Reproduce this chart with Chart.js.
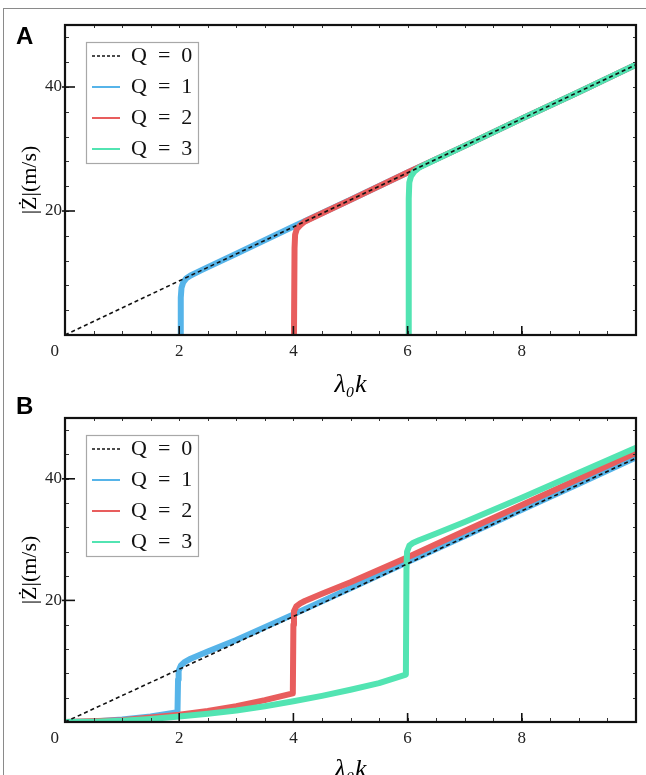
<!DOCTYPE html>
<html><head><meta charset="utf-8">
<script src="https://cdn.jsdelivr.net/npm/chart.js@4.4.0/dist/chart.umd.min.js"></script>
<style>
html,body{margin:0;padding:0;background:#fff;width:646px;height:775px;overflow:hidden;position:relative;}
#frame{position:absolute;left:3px;top:8px;width:700px;height:800px;border-left:1.5px solid #8a8a8a;border-top:1.5px solid #8a8a8a;}
.panel{position:absolute;left:0;width:646px;}
.lbl{position:absolute;font-family:'Liberation Sans',Arial,sans-serif;font-weight:bold;font-size:24px;color:#000;line-height:24px;}
</style></head><body>
<div id="frame"></div>
<div class="panel" style="top:0;height:400px"><canvas id="cA" width="646" height="400"></canvas></div>
<div class="panel" style="top:392px;height:400px"><canvas id="cB" width="646" height="400"></canvas></div>
<div class="lbl" style="left:16px;top:24px">A</div>
<div class="lbl" style="left:16px;top:394px">B</div>
<script>
// ---- labels / ticks ----
const seriesNames = ['Q = 0', 'Q = 1', 'Q = 2', 'Q = 3'];
const xTickValues = [0, 2, 4, 6, 8];
const yTickValues = [20, 40];
const xRange = [0, 10];
const yRange = [0, 50];
const xTitle = 'λ₀k';
const yTitle = '|Ż|(m/s)';

// ---- panel A series [x, y] ----
const aQ0 = [[0, 0], [10, 43.6]];
const aQ1 = [[2.02, 0], [2.025, 3], [2.03, 6], [2.04, 7.6], [2.07, 8.5], [2.12, 9.1], [2.2, 9.6], [2.4, 10.5], [3, 13.1], [4, 17.5], [5, 21.8], [6, 26.2], [7, 30.5], [8, 34.9], [9, 39.2], [10, 43.6]];
const aQ2 = [[4.01, 0], [4.02, 14], [4.03, 16.2], [4.06, 17.1], [4.12, 17.7], [4.2, 18.3], [4.4, 19.2], [5, 21.8], [6, 26.2], [7, 30.5], [8, 34.9], [9, 39.2], [10, 43.6]];
const aQ3 = [[6.01, 0], [6.02, 22], [6.03, 24.6], [6.06, 25.6], [6.12, 26.4], [6.2, 27.0], [6.4, 27.9], [7, 30.5], [8, 34.9], [9, 39.2], [10, 43.6]];

// ---- panel B series [x, y] ----
const bQ0 = [[0, 0], [10, 43.4]];
const bQ1 = [[0, 0], [0.5, 0.1], [1, 0.4], [1.5, 0.9], [1.97, 1.6], [1.98, 7], [1.99, 8.4], [2.03, 9.3], [2.1, 9.9], [2.2, 10.4], [2.5, 11.6], [3, 13.5], [4, 17.7], [5, 22.0], [6, 26.3], [7, 30.6], [8, 34.9], [9, 39.2], [10, 43.5]];
const bQ2 = [[0, 0], [1, 0.3], [2, 1.2], [2.5, 1.8], [3, 2.6], [3.5, 3.6], [3.99, 4.7], [4.0, 16], [4.01, 18.2], [4.05, 19.0], [4.12, 19.5], [4.2, 19.9], [4.5, 21.1], [5, 23.0], [6, 27.1], [7, 31.4], [8, 35.7], [9, 40.0], [10, 44.3]];
const bQ3 = [[0, 0], [0.5, 0.05], [1, 0.2], [1.5, 0.5], [2, 0.9], [2.5, 1.35], [3, 1.9], [3.5, 2.6], [4, 3.4], [4.5, 4.3], [5, 5.3], [5.5, 6.4], [5.97, 7.8], [5.98, 25], [5.99, 28], [6.03, 29.0], [6.1, 29.5], [6.2, 29.9], [6.5, 31.0], [7, 32.9], [8, 36.9], [9, 41.0], [10, 45.1]];

// ---- style ----
const colors = ['#111111', '#56b4e9', '#e85d5d', '#52e4b2'];
const SERIF = "'Liberation Serif','DejaVu Serif',serif";
const xMinorStep = 0.5, yMinorStep = 4;

function xy(arr) { return arr.map(p => ({x: p[0], y: p[1]})); }

const frameTicks = {
  id: 'frameTicks',
  afterLayout(chart) {
    const lg = chart.legend;
    if (lg) { lg.left = chart.chartArea.left + 18; lg.top = chart.chartArea.top + 11; }
  },
  afterDatasetsDraw(chart) {
    const {ctx, chartArea: a, scales: {x, y}} = chart;
    ctx.save();
    ctx.strokeStyle = '#333';
    ctx.lineWidth = 1;
    for (let v = xRange[0] + xMinorStep; v < xRange[1] - 1e-9; v += xMinorStep) {
      const px = Math.round(x.getPixelForValue(v)) + 0.5;
      ctx.beginPath(); ctx.moveTo(px, a.bottom); ctx.lineTo(px, a.bottom - 4); ctx.stroke();
      ctx.beginPath(); ctx.moveTo(px, a.top); ctx.lineTo(px, a.top + 3); ctx.stroke();
    }
    for (let v = yRange[0] + yMinorStep; v < yRange[1] - 1e-9; v += yMinorStep) {
      const py = Math.round(y.getPixelForValue(v)) + 0.5;
      ctx.beginPath(); ctx.moveTo(a.left, py); ctx.lineTo(a.left + 4, py); ctx.stroke();
      ctx.beginPath(); ctx.moveTo(a.right, py); ctx.lineTo(a.right - 3, py); ctx.stroke();
    }
    ctx.strokeStyle = '#111';
    ctx.lineWidth = 1.6;
    xTickValues.forEach(v => {
      if (v === 0) return;
      const px = x.getPixelForValue(v);
      ctx.beginPath(); ctx.moveTo(px, a.bottom); ctx.lineTo(px, a.bottom - 9); ctx.stroke();
    });
    yTickValues.forEach(v => {
      const py = y.getPixelForValue(v);
      ctx.beginPath(); ctx.moveTo(a.left - 3, py); ctx.lineTo(a.left + 10, py); ctx.stroke();
    });
    ctx.strokeStyle = '#111';
    ctx.lineWidth = 2.2;
    ctx.strokeRect(a.left, a.top, a.right - a.left, a.bottom - a.top);
    ctx.restore();
  },
  afterDraw(chart) {
    const boxes = chart.legend && chart.legend.legendHitBoxes;
    if (!boxes || !boxes.length) return;
    let l = Infinity, t = Infinity, r = -Infinity, b = -Infinity;
    boxes.forEach(h => { l = Math.min(l, h.left); t = Math.min(t, h.top); r = Math.max(r, h.left + h.width); b = Math.max(b, h.top + h.height); });
    const ctx = chart.ctx;
    ctx.save();
    ctx.strokeStyle = '#a8a8a8';
    ctx.lineWidth = 1.2;
    ctx.strokeRect(Math.round(l - 6) + 0.5, Math.round(t - 3) + 0.5, Math.round(r - l + 12), Math.round(b - t + 6));
    ctx.restore();
  }
};

function makeChart(id, series, opts) {
  const datasets = series.map((s, i) => ({
    label: seriesNames[i],
    data: xy(s),
    borderColor: colors[i],
    backgroundColor: colors[i],
    borderWidth: i === 0 ? 1.6 : 6,
    borderDash: i === 0 ? [4, 3] : [],
    borderJoinStyle: 'round',
    pointRadius: 0,
    tension: 0,
    fill: false,
    order: i === 0 ? 0 : 4 - i
  }));
  return new Chart(document.getElementById(id), {
    type: 'line',
    data: {datasets},
    plugins: [frameTicks],
    options: {
      responsive: false,
      animation: false,
      devicePixelRatio: 1,
      layout: {padding: {top: opts.top, right: 10, left: 0, bottom: 0}},
      plugins: {
        tooltip: {enabled: false},
        legend: {
          position: 'chartArea',
          align: 'start',
          labels: {
            usePointStyle: true,
            pointStyleWidth: 28,
            padding: 9,
            color: '#111',
            font: {family: SERIF, size: 22},
            generateLabels(chart) {
              return chart.data.datasets.map((ds, i) => ({
                text: ds.label.replace(/ /g, '\u2002'),
                strokeStyle: ds.borderColor,
                fillStyle: ds.borderColor,
                lineWidth: i === 0 ? 1.5 : 2,
                lineDash: i === 0 ? [3, 2] : [],
                pointStyle: 'line',
                datasetIndex: i,
                hidden: false,
                fontColor: '#111'
              }));
            }
          }
        }
      },
      scales: {
        x: {
          type: 'linear', min: xRange[0], max: xRange[1],
          afterBuildTicks(s) { s.ticks = xTickValues.map(v => ({value: v})); },
          afterFit(s) { s.height = opts.xh; },
          grid: {display: false, drawTicks: false},
          border: {display: false},
          ticks: {
            autoSkip: false, maxRotation: 0, padding: opts.xpad, color: '#222',
            font: {family: SERIF, size: 17},
            callback: v => (v === 0 ? '0\u2003\u2009' : String(v))
          },
          title: {display: true, text: xTitle, color: '#000', font: {family: SERIF, size: 26, style: 'italic', lineHeight: 1}, padding: {top: 0, bottom: opts.tpad}}
        },
        y: {
          type: 'linear', min: yRange[0], max: yRange[1],
          afterBuildTicks(s) { s.ticks = yTickValues.map(v => ({value: v})); },
          afterFit(s) { s.width = 65; },
          grid: {display: false, drawTicks: false},
          border: {display: false},
          ticks: {padding: 3, color: '#222', font: {family: SERIF, size: 17}, callback: v => String(v)},
          title: {display: true, text: yTitle, color: '#000', font: {family: SERIF, size: 22, lineHeight: 1.2}, padding: {top: 17, bottom: 0}}
        }
      }
    }
  });
}

makeChart('cA', [aQ0, aQ1, aQ2, aQ3], {top: 25, xh: 65, xpad: 6, tpad: 2});
makeChart('cB', [bQ0, bQ1, bQ2, bQ3], {top: 26, xh: 70, xpad: 6, tpad: 9});
</script>
</body></html>
